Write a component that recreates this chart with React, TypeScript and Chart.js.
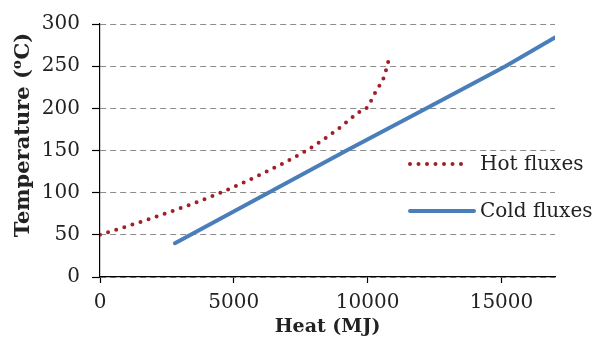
import React, { useEffect, useRef } from "react";
import { Chart, registerables } from "chart.js";

Chart.register(...registerables);

// ---- Data ----
const hotHeat = [0, 1866, 4355, 6095, 7714, 8955, 9700, 9950, 10323, 10634, 10722, 10796];
const hotTemp = [50, 69, 98, 123, 150, 177, 196, 200, 221, 239, 250, 258];
const coldHeat = [2800, 9212, 12200, 15150, 17000];
const coldTemp = [40, 150, 200, 250, 284];
const seriesLabels = ["Hot fluxes", "Cold fluxes"];
const xTitle = "Heat (MJ)";
const yTitleParts = ["Temperature (", "o", "C)"];
const xTicks = [0, 5000, 10000, 15000];
const yTicks = [0, 50, 100, 150, 200, 250, 300];
const xRange = [0, 17000];
const yRange = [0, 300];

const FONT = "'DejaVu Serif', serif";
const HOT_COLOR = "#A31F27";
const COLD_COLOR = "#4A7EBB";
const TEXT_COLOR = "#222222";

const overlayPlugin = {
  id: "overlay",
  afterDraw(chart: any) {
    const ctx = chart.ctx as CanvasRenderingContext2D;
    const area = chart.chartArea;
    const ds = chart.data.datasets;
    // Legend
    ctx.save();
    const sx = area.right - 145;
    const rows = [area.top + 140, area.top + 187];
    ds.forEach((d: any, i: number) => {
      const y = rows[i];
      ctx.save();
      ctx.strokeStyle = d.borderColor;
      ctx.lineWidth = d.borderWidth;
      ctx.lineCap = d.borderCapStyle || "butt";
      ctx.setLineDash(d.borderDash || []);
      ctx.beginPath();
      ctx.moveTo(sx, y);
      ctx.lineTo(sx + (i === 0 ? 56 : 64), y);
      ctx.stroke();
      ctx.restore();
      ctx.fillStyle = TEXT_COLOR;
      ctx.font = `20px ${FONT}`;
      ctx.textAlign = "left";
      ctx.textBaseline = "middle";
      ctx.fillText(d.label, sx + 70, y + 1);
    });
    ctx.restore();

    // Y axis title with superscript
    ctx.save();
    const big = `bold 21px ${FONT}`;
    const small = `bold 13px ${FONT}`;
    ctx.font = big;
    const w0 = ctx.measureText(yTitleParts[0]).width;
    const w2 = ctx.measureText(yTitleParts[2]).width;
    ctx.font = small;
    const w1 = ctx.measureText(yTitleParts[1]).width;
    const total = w0 + w1 + w2 + 1;
    ctx.translate(24, area.top + 111);
    ctx.rotate(-Math.PI / 2);
    ctx.fillStyle = TEXT_COLOR;
    ctx.textBaseline = "middle";
    ctx.textAlign = "left";
    let x = -total / 2;
    ctx.font = big;
    ctx.fillText(yTitleParts[0], x, 0);
    x += w0;
    ctx.font = small;
    ctx.fillText(yTitleParts[1], x, -6);
    x += w1 + 1;
    ctx.font = big;
    ctx.fillText(yTitleParts[2], x, 0);
    ctx.restore();
  },
};

export default function App() {
  const ref = useRef<HTMLCanvasElement | null>(null);
  useEffect(() => {
    if (!ref.current) return;
    const chart = new Chart(ref.current, {
      type: "line",
      data: {
        datasets: [
          {
            label: seriesLabels[0],
            data: hotHeat.map((h, i) => ({ x: h, y: hotTemp[i] })),
            borderColor: HOT_COLOR,
            backgroundColor: HOT_COLOR,
            borderWidth: 4,
            borderDash: [0, 8.5],
            borderCapStyle: "round",
            pointRadius: 0,
            cubicInterpolationMode: "monotone",
            fill: false,
          },
          {
            label: seriesLabels[1],
            data: coldHeat.map((h, i) => ({ x: h, y: coldTemp[i] })),
            borderColor: COLD_COLOR,
            backgroundColor: COLD_COLOR,
            borderWidth: 4,
            borderCapStyle: "round",
            pointRadius: 0,
            tension: 0,
            fill: false,
          },
        ],
      },
      options: {
        animation: false,
        responsive: false,
        devicePixelRatio: 1,
        layout: { padding: { top: 17, right: 52, left: 0, bottom: 0 } },
        plugins: { legend: { display: false }, tooltip: { enabled: false } },
        scales: {
          x: {
            type: "linear",
            min: xRange[0],
            max: xRange[1],
            afterFit: (s: any) => {
              s.height = 61;
            },
            afterBuildTicks: (s: any) => {
              s.ticks = xTicks.map((v) => ({ value: v }));
            },
            ticks: {
              padding: 8,
              color: TEXT_COLOR,
              font: { family: FONT, size: 20 },
              maxRotation: 0,
              autoSkip: false,
              callback: (v: any) => String(v),
            },
            grid: {
              drawOnChartArea: false,
              drawTicks: true,
              tickLength: 6,
              tickColor: "#000",
              tickWidth: 1.2,
            },
            border: { display: true, color: "#000", width: 1.2 },
            title: {
              display: true,
              text: xTitle,
              color: TEXT_COLOR,
              font: { family: FONT, size: 19, weight: "bold" },
              padding: { top: 0, bottom: 0 },
            },
          },
          y: {
            type: "linear",
            min: yRange[0],
            max: yRange[1],
            afterFit: (s: any) => {
              s.width = 100;
            },
            afterBuildTicks: (s: any) => {
              s.ticks = yTicks.map((v) => ({ value: v }));
            },
            ticks: {
              padding: 12,
              color: TEXT_COLOR,
              font: { family: FONT, size: 20 },
              autoSkip: false,
              callback: (v: any) => String(v),
            },
            grid: {
              color: "#8c8c8c",
              lineWidth: 1,
              drawTicks: true,
              tickLength: 8,
              tickColor: "#000",
              tickWidth: 1.2,
              tickBorderDash: [],
            },
            border: { display: true, color: "#000", width: 1.2, dash: [6, 4] },
          },
        },
      } as any,
      plugins: [overlayPlugin],
    });
    return () => chart.destroy();
  }, []);
  return (
    <div style={{ position: "fixed", left: 0, top: 0, width: 607, height: 338, background: "#fff" }}>
      <canvas ref={ref} width={607} height={338} style={{ width: 607, height: 338, display: "block" }} />
    </div>
  );
}
